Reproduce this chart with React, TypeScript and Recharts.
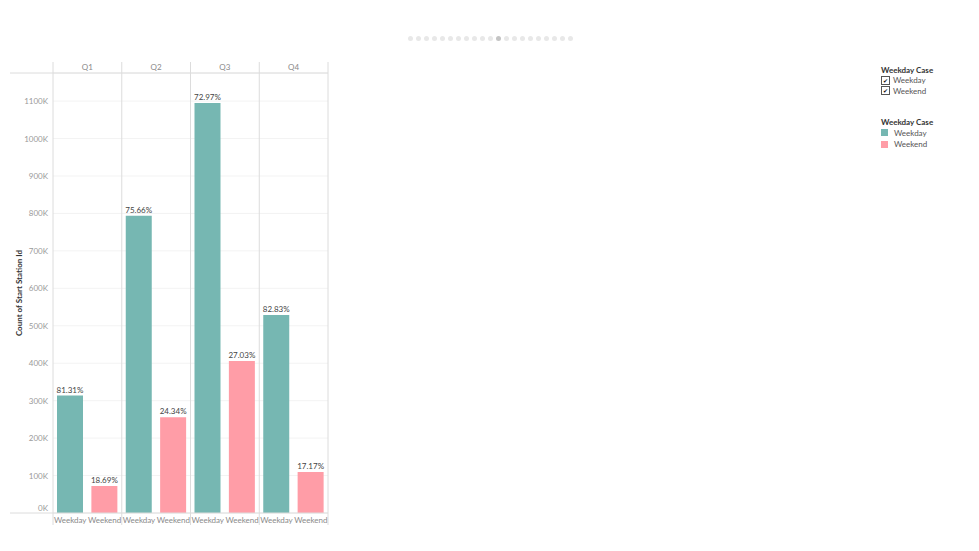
import { BarChart, Bar, XAxis, YAxis, CartesianGrid, Cell, LabelList, Label } from 'recharts';

const QUARTERS = ['Q1', 'Q2', 'Q3', 'Q4'];
const CASES = ['Weekday', 'Weekend'];
const WEEKDAY_COUNTS = [313600, 794000, 1095000, 529000];
const WEEKEND_COUNTS = [72100, 255400, 405600, 109700];
const WEEKDAY_SHARE = ['81.31%', '75.66%', '72.97%', '82.83%'];
const WEEKEND_SHARE = ['18.69%', '24.34%', '27.03%', '17.17%'];
const Y_TICKS = [0, 100000, 200000, 300000, 400000, 500000, 600000, 700000, 800000, 900000, 1000000, 1100000];
const Y_MAX = 1175000;

const CASE_COLORS: Record<string, string> = { Weekday: '#76b7b2', Weekend: '#ff9da7' };
const FONT = 'Lato, "Open Sans", sans-serif';
const FRAME = '#dcdcdc';
const TICK_COLOR = '#9a9a9a';

// chart layout (svg coordinates)
const CHART_W = 330;
const CHART_H = 522;
const MARGIN = { top: 54, right: 10, bottom: 5, left: 0 };
const TOP_AXIS_H = 11;
const BOTTOM_AXIS_H = 12;
const FRAME_LEFT = 2;
const HEADER_TOP = MARGIN.top;
const PLOT_TOP = MARGIN.top + TOP_AXIS_H;
const PLOT_BOTTOM = CHART_H - MARGIN.bottom - BOTTOM_AXIS_H;
const DIVIDER_BOTTOM = PLOT_BOTTOM + 12;

const rows = QUARTERS.flatMap((q, i) => [
  { key: `${q} Weekday`, quarter: q, caseName: CASES[0], count: WEEKDAY_COUNTS[i], share: WEEKDAY_SHARE[i] },
  { key: `${q} Weekend`, quarter: q, caseName: CASES[1], count: WEEKEND_COUNTS[i], share: WEEKEND_SHARE[i] },
]);

function CaseTick(props: any) {
  const { x, index, payload } = props;
  const half = payload?.offset ?? 0;
  const row = rows[index];
  const left = x - half;
  return (
    <g>
      {index === 0 && (
        <>
          <line x1={FRAME_LEFT} x2={left + rows.length * 2 * half} y1={PLOT_TOP} y2={PLOT_TOP} stroke={FRAME} />
          <line x1={FRAME_LEFT} x2={left + rows.length * 2 * half} y1={PLOT_BOTTOM} y2={PLOT_BOTTOM} stroke={FRAME} />
        </>
      )}
      {index % 2 === 0 && (
        <line x1={left} x2={left} y1={HEADER_TOP} y2={DIVIDER_BOTTOM} stroke={FRAME} />
      )}
      {index === rows.length - 1 && (
        <line x1={x + half} x2={x + half} y1={HEADER_TOP} y2={DIVIDER_BOTTOM} stroke={FRAME} />
      )}
      <text x={x} y={PLOT_BOTTOM + 10} textAnchor="middle" fontSize={8} fill="#8a8a8a" fontFamily={FONT}>
        {row ? row.caseName : ''}
      </text>
    </g>
  );
}

function QuarterTick(props: any) {
  const { x, payload } = props;
  return (
    <text x={x} y={PLOT_TOP - 3} textAnchor="middle" fontSize={8} fill="#8a8a8a" fontFamily={FONT}>
      {payload.value}
    </text>
  );
}

function CountTick(props: any) {
  const { x, y, payload } = props;
  const shift = payload.value === 0 ? -5 : 0;
  return (
    <text x={x} y={y + shift} dy={3} textAnchor="end" fontSize={8} fill={TICK_COLOR} fontFamily={FONT}>
      {`${payload.value / 1000}K`}
    </text>
  );
}

function AxisTitle(props: any) {
  const vb = props.viewBox;
  const cx = vb.x + 11;
  const cy = vb.y + vb.height / 2;
  return (
    <text
      x={cx}
      y={cy}
      transform={`rotate(-90, ${cx}, ${cy})`}
      textAnchor="middle"
      dominantBaseline="central"
      fontSize={8}
      fontWeight={700}
      fill="#333"
      fontFamily={FONT}
    >
      Count of Start Station Id
    </text>
  );
}

function Pager() {
  return (
    <div style={{ position: 'absolute', left: 399.5, top: 27.5, display: 'flex', gap: 3.05 }}>
      {Array.from({ length: 21 }, (_, i) => (
        <div
          key={i}
          style={{ width: 5, height: 5, borderRadius: '50%', background: i === 11 ? '#c4c4c4' : '#e8e8e8' }}
        />
      ))}
    </div>
  );
}

function Legends() {
  const title = { fontSize: 8, fontWeight: 700, color: '#333', height: 10, lineHeight: '10px' } as const;
  const item = { fontSize: 8, color: '#555', display: 'flex', alignItems: 'center', height: 10.5, lineHeight: '10px' } as const;
  return (
    <div style={{ position: 'absolute', left: 873, top: 57, fontFamily: FONT }}>
      <div style={title}>Weekday Case</div>
      {CASES.map((c) => (
        <div key={c} style={item}>
          <span
            style={{
              width: 7,
              height: 7,
              border: '1px solid #555',
              marginRight: 3,
              fontSize: 6,
              lineHeight: '7px',
              textAlign: 'center',
              color: '#111',
            }}
          >
            ✔
          </span>
          {c}
        </div>
      ))}
      <div style={{ ...title, marginTop: 21 }}>Weekday Case</div>
      {CASES.map((c) => (
        <div key={c} style={{ ...item, height: 11.5 }}>
          <span style={{ width: 7, height: 7, background: CASE_COLORS[c], marginRight: 6 }} />
          {c}
        </div>
      ))}
    </div>
  );
}

export default function App() {
  return (
    <div style={{ position: 'relative', width: 963, height: 535, fontFamily: FONT }}>
      <Pager />
      <Legends />
      <div style={{ position: 'absolute', left: 0, top: 0 }}>
        <BarChart width={CHART_W} height={CHART_H} data={rows} margin={MARGIN} barSize={26}>
          <CartesianGrid vertical={false} stroke="#f3f3f3" />
          <XAxis
            dataKey="key"
            height={BOTTOM_AXIS_H}
            interval={0}
            axisLine={false}
            tickLine={false}
            tick={<CaseTick />}
          />
          <XAxis
            xAxisId="q"
            dataKey="quarter"
            orientation="top"
            allowDuplicatedCategory={false}
            height={TOP_AXIS_H}
            interval={0}
            axisLine={false}
            tickLine={false}
            tick={<QuarterTick />}
          />
          <YAxis
            width={45}
            domain={[0, Y_MAX]}
            ticks={Y_TICKS}
            axisLine={false}
            tickLine={false}
            tickSize={0}
            tickMargin={5}
            tick={<CountTick />}
          >
            <Label content={<AxisTitle />} />
          </YAxis>
          <Bar dataKey="count" isAnimationActive={false}>
            {rows.map((r) => (
              <Cell key={r.key} fill={CASE_COLORS[r.caseName]} />
            ))}
            <LabelList dataKey="share" position="top" offset={3} fontSize={8} fill="#444" fontFamily={FONT} />
          </Bar>
        </BarChart>
      </div>
    </div>
  );
}
